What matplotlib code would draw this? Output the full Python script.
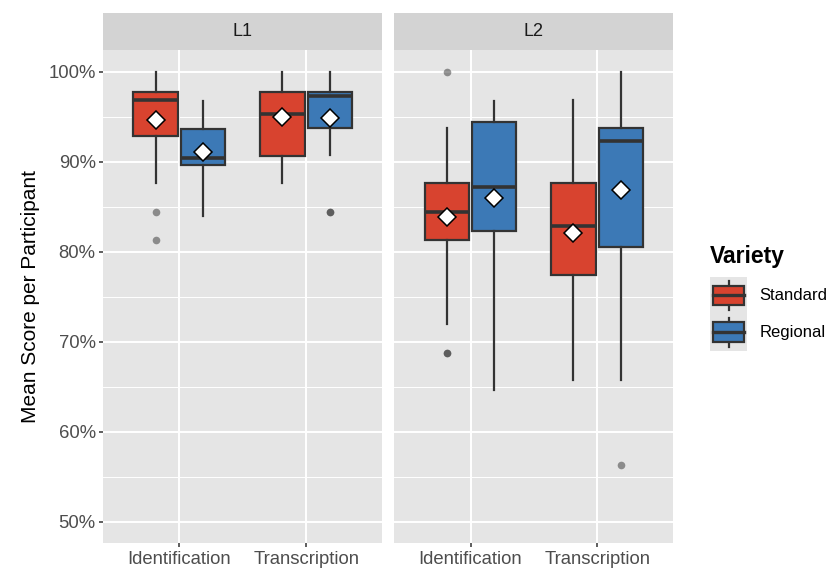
import numpy as np
import matplotlib.pyplot as plt
from matplotlib.patches import Patch, Rectangle
from matplotlib.lines import Line2D
from matplotlib.legend_handler import HandlerBase
from matplotlib.ticker import FuncFormatter, MultipleLocator

plt.rcParams['font.family'] = ['Liberation Sans', 'DejaVu Sans']

# ---- data (mean score per participant, %) ----
groups = ['L1', 'L2']
tasks = ['Identification', 'Transcription']
varieties = ['Standard', 'Regional']
# order: L1 Ident Std, L1 Ident Reg, L1 Trans Std, L1 Trans Reg, L2 ...
whislo = [87.6, 84.0, 87.6, 90.7, 72.0, 64.6, 65.7, 65.7]
q1 = [92.9, 89.6, 90.6, 93.7, 81.3, 82.3, 77.4, 80.5]
med = [96.9, 90.4, 95.3, 97.3, 84.4, 87.2, 82.8, 92.3]
q3 = [97.7, 93.6, 97.7, 97.7, 87.6, 94.4, 87.6, 93.7]
whishi = [100.0, 96.7, 100.0, 100.0, 93.7, 96.7, 96.8, 100.0]
means = [94.6, 91.1, 95.0, 94.85, 83.8, 86.0, 82.1, 86.8]
fliers = [[84.4, 81.3], [], [], [84.4, 84.4],
          [100.0, 68.7, 68.7], [], [], [56.3]]

colors = ['#D8432F', '#3C79B6']
edge = '#333333'
panel_bg = '#E5E5E5'
strip_bg = '#D3D3D3'
offsets = [-0.1875, 0.1875]


class BoxKey(HandlerBase):
    def create_artists(self, legend, orig_handle, xdescent, ydescent,
                       width, height, fontsize, trans):
        x0, y0 = -xdescent, -ydescent
        fc = orig_handle.get_facecolor()
        bg = Rectangle((x0, y0), width, height, fc=panel_bg, ec='none',
                       transform=trans)
        cx = x0 + width / 2
        wl = Line2D([cx, cx], [y0 + 0.1 * height, y0 + 0.9 * height],
                    color=edge, lw=1.6, transform=trans)
        box = Rectangle((x0 + 0.08 * width, y0 + 0.23 * height),
                        0.84 * width, 0.54 * height, fc=fc, ec=edge,
                        lw=1.6, transform=trans)
        ml = Line2D([x0 + 0.08 * width, x0 + 0.92 * width],
                    [y0 + height / 2] * 2, color=edge, lw=2.4,
                    transform=trans)
        return [bg, wl, box, ml]


fig, axes = plt.subplots(1, 2, figsize=(8.36, 5.71), dpi=100, sharey=True)
fig.subplots_adjust(left=0.1236, right=0.8054, bottom=0.0485, top=0.9124,
                    wspace=0.044)

for gi, ax in enumerate(axes):
    ax.set_facecolor(panel_bg)
    for ti in range(len(tasks)):
        for vi in range(len(varieties)):
            i = gi * 4 + ti * 2 + vi
            st = [dict(med=med[i], q1=q1[i], q3=q3[i], whislo=whislo[i],
                       whishi=whishi[i], mean=means[i], fliers=fliers[i])]
            ax.bxp(st, positions=[ti + 1 + offsets[vi]], widths=0.35,
                   patch_artist=True, showmeans=True, showcaps=False,
                   boxprops=dict(facecolor=colors[vi], edgecolor=edge, lw=1.6),
                   whiskerprops=dict(color=edge, lw=1.6),
                   medianprops=dict(color=edge, lw=2.6),
                   meanprops=dict(marker='D', markerfacecolor='white',
                                  markeredgecolor='black', markersize=9,
                                  markeredgewidth=1.1),
                   flierprops=dict(marker='o', markerfacecolor=edge,
                                   markeredgecolor='none', alpha=0.5,
                                   markersize=5.5))
    ax.set_xlim(0.4, 2.6)
    ax.set_ylim(47.6, 102.4)
    ax.set_xticks([1, 2])
    ax.set_xticklabels(tasks)
    ax.yaxis.set_major_locator(MultipleLocator(10))
    ax.yaxis.set_minor_locator(MultipleLocator(5))
    ax.yaxis.set_major_formatter(FuncFormatter(lambda v, p: '%d%%' % v))
    ax.grid(which='major', color='white', lw=1.4)
    ax.grid(which='minor', axis='y', color='white', lw=0.7)
    ax.set_axisbelow(True)
    for s in ax.spines.values():
        s.set_visible(False)
    ax.tick_params(axis='both', which='major', length=3, width=1.1,
                   color=edge, labelcolor='#4D4D4D', labelsize=13.3, pad=2.5)
    ax.tick_params(axis='y', which='minor', length=0)
    if gi == 1:
        ax.tick_params(axis='y', which='both', length=0, labelleft=False)

    pos = ax.get_position()
    sax = fig.add_axes([pos.x0, pos.y1, pos.width, 36.7 / 571])
    sax.set_facecolor(strip_bg)
    sax.set_xticks([])
    sax.set_yticks([])
    for s in sax.spines.values():
        s.set_visible(False)
    sax.text(0.5, 0.5, groups[gi], ha='center', va='center', fontsize=13,
             color='#1A1A1A', transform=sax.transAxes)

axes[0].set_ylabel('Mean Score per Participant', fontsize=15, labelpad=6)

handles = [Patch(facecolor=c) for c in colors]
leg = fig.legend(handles, varieties, handler_map={Patch: BoxKey()},
                 loc='upper left', bbox_to_anchor=(710 / 836, 1 - 245 / 571),
                 frameon=False, borderpad=0, borderaxespad=0, labelspacing=0,
                 handlelength=37 / 100 * 72 / 12, handleheight=3.03,
                 handletextpad=0.75, fontsize=12, title='Variety',
                 title_fontproperties=dict(weight='bold', size=16.5),
                 alignment='left')
leg._legend_box.sep = 6.5

fig.savefig('out.png', dpi=100)
